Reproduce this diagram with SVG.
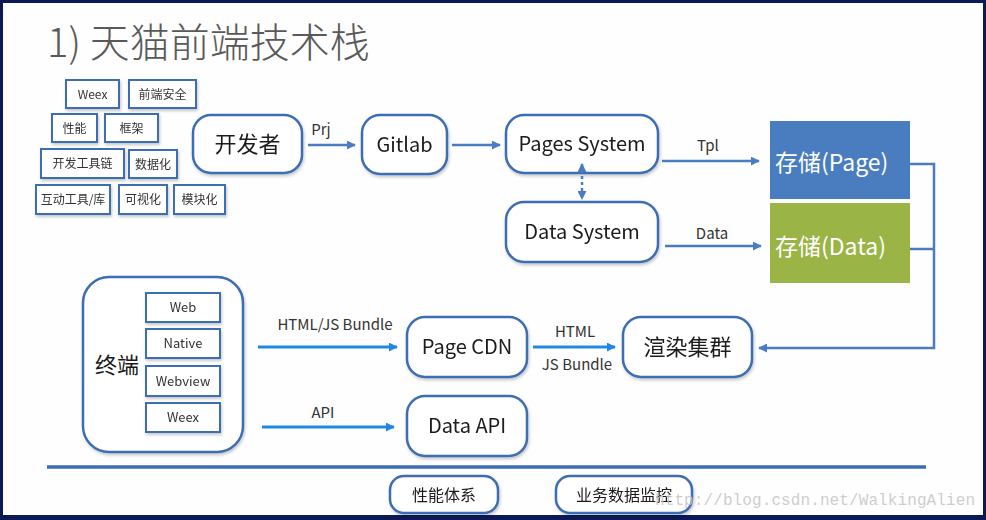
<svg xmlns="http://www.w3.org/2000/svg" width="986" height="520" viewBox="0 0 986 520">
<defs>
<style>
.t{font-family:"Noto Sans CJK SC","Noto Sans",sans-serif;fill:#1a1a1a}
.sb rect{fill:#fff;stroke:#3c6db2;stroke-width:2}
.sb text{font-size:12px;text-anchor:middle;fill:#333}
.rb rect{fill:#fff;stroke:#3c6db2;stroke-width:2.5}
.rb text{text-anchor:middle}
.ua{stroke:#4a7cbf;stroke-width:2.5;fill:none}
.la{stroke:#1f88e5;stroke-width:3;fill:none}
.lbl{font-size:15px;text-anchor:middle;fill:#333}
</style>
<filter id="sh" x="-10%" y="-10%" width="130%" height="140%">
<feDropShadow dx="1" dy="2" stdDeviation="1.5" flood-color="#000" flood-opacity="0.22"/>
</filter>
<marker id="ah" viewBox="0 0 10 10" refX="9" refY="5" markerWidth="9" markerHeight="9" markerUnits="userSpaceOnUse" orient="auto-start-reverse">
<path d="M0,0 L10,5 L0,10 z" fill="#4a7cbf"/>
</marker>
<marker id="ahl" viewBox="0 0 10 10" refX="9" refY="5" markerWidth="9" markerHeight="9" markerUnits="userSpaceOnUse" orient="auto">
<path d="M0,0 L10,5 L0,10 z" fill="#1f88e5"/>
</marker>
</defs>

<rect x="0" y="0" width="986" height="520" fill="#0b1a55"/>
<rect x="3" y="3" width="980" height="512" fill="#fefefe"/>

<text class="t" x="47" y="57" font-size="40" font-weight="300" style="fill:#595959">1) 天猫前端技术栈</text>

<g id="skills" class="t">
<g id="s-weex" class="sb" filter="url(#sh)"><rect x="66" y="80" width="53" height="28"/><text class="t" x="92.5" y="98.5">Weex</text></g>
<g id="s-sec" class="sb" filter="url(#sh)"><rect x="129" y="80" width="67" height="28"/><text class="t" x="162.5" y="98.5">前端安全</text></g>
<g id="s-perf" class="sb" filter="url(#sh)"><rect x="52" y="114" width="45" height="28"/><text class="t" x="74.5" y="132.5">性能</text></g>
<g id="s-fw" class="sb" filter="url(#sh)"><rect x="105" y="114" width="53" height="28"/><text class="t" x="131.5" y="132.5">框架</text></g>
<g id="s-tool" class="sb" filter="url(#sh)"><rect x="41" y="149" width="83" height="29"/><text class="t" x="82.5" y="168">开发工具链</text></g>
<g id="s-data" class="sb" filter="url(#sh)"><rect x="129" y="150" width="48" height="28"/><text class="t" x="153" y="168.5">数据化</text></g>
<g id="s-inter" class="sb" filter="url(#sh)"><rect x="36" y="185" width="74" height="29"/><text class="t" x="73" y="204">互动工具/库</text></g>
<g id="s-vis" class="sb" filter="url(#sh)"><rect x="119" y="185" width="48" height="29"/><text class="t" x="143" y="204">可视化</text></g>
<g id="s-mod" class="sb" filter="url(#sh)"><rect x="174" y="185" width="51" height="29"/><text class="t" x="199.5" y="204">模块化</text></g>
</g>

<g id="dev" class="rb" filter="url(#sh)"><rect x="193" y="115" width="109" height="58" rx="18"/><text class="t" x="247.5" y="152" font-size="22">开发者</text></g>
<g id="gitlab" class="rb" filter="url(#sh)"><rect x="362" y="115" width="85" height="59" rx="18"/><text class="t" x="404.5" y="152" font-size="20">Gitlab</text></g>
<g id="pages" class="rb" filter="url(#sh)"><rect x="506" y="115" width="152" height="58" rx="18"/><text class="t" x="582" y="151" font-size="20">Pages System</text></g>
<g id="datasys" class="rb" filter="url(#sh)"><rect x="506" y="202" width="152" height="60" rx="18"/><text class="t" x="582" y="239" font-size="20">Data System</text></g>

<g id="store-page"><rect x="770" y="121" width="140" height="78" fill="#4a7dc0"/><text class="t" x="775" y="171" font-size="23" style="fill:#fff">存储(Page)</text></g>
<g id="store-data"><rect x="770" y="203" width="140" height="80" fill="#9ab445"/><text class="t" x="775" y="255" font-size="23" style="fill:#fff">存储(Data)</text></g>

<g id="render" class="rb" filter="url(#sh)"><rect x="623" y="317" width="129" height="60" rx="18"/><text class="t" x="687.5" y="355" font-size="22">渲染集群</text></g>
<g id="pagecdn" class="rb" filter="url(#sh)"><rect x="407" y="317" width="120" height="60" rx="18"/><text class="t" x="467" y="354" font-size="20">Page CDN</text></g>
<g id="dataapi" class="rb" filter="url(#sh)"><rect x="407" y="396" width="120" height="60" rx="18"/><text class="t" x="467" y="433" font-size="20">Data API</text></g>

<g id="terminal">
<g class="rb" filter="url(#sh)"><rect x="83" y="277" width="160" height="175" rx="26"/></g>
<text class="t" x="117" y="373" font-size="22" text-anchor="middle">终端</text>
<g id="t-web" class="sb" filter="url(#sh)"><rect x="146" y="293" width="74" height="29"/><text class="t" x="183" y="312" style="font-size:13px">Web</text></g>
<g id="t-native" class="sb" filter="url(#sh)"><rect x="146" y="329" width="74" height="29"/><text class="t" x="183" y="348" style="font-size:13px">Native</text></g>
<g id="t-webview" class="sb" filter="url(#sh)"><rect x="146" y="366" width="74" height="30"/><text class="t" x="183" y="385.5" style="font-size:13px">Webview</text></g>
<g id="t-weex" class="sb" filter="url(#sh)"><rect x="146" y="403" width="74" height="29"/><text class="t" x="183" y="422" style="font-size:13px">Weex</text></g>
</g>

<g id="connectors">
<line class="ua" x1="308" y1="145" x2="355" y2="145" marker-end="url(#ah)"/>
<line class="ua" x1="452" y1="145" x2="500" y2="145" marker-end="url(#ah)"/>
<line class="ua" x1="582" y1="164" x2="582" y2="199" stroke-dasharray="3,3" marker-start="url(#ah)" marker-end="url(#ah)"/>
<line class="ua" x1="662" y1="161" x2="759" y2="161" marker-end="url(#ah)"/>
<line class="ua" x1="665" y1="246" x2="761" y2="246" marker-end="url(#ah)"/>
<polyline class="ua" points="910,164 934,164 934,348 759,348" marker-end="url(#ah)"/>
<line class="ua" x1="910" y1="249" x2="934" y2="249"/>
<line class="la" x1="258" y1="347" x2="397" y2="347" marker-end="url(#ahl)"/>
<line class="la" x1="533" y1="347" x2="615" y2="347" marker-end="url(#ahl)"/>
<line class="la" x1="262" y1="427" x2="394" y2="427" marker-end="url(#ahl)"/>
<text class="t lbl" x="321" y="135">Prj</text>
<text class="t lbl" x="708" y="151">Tpl</text>
<text class="t lbl" x="712" y="239">Data</text>
<text class="t lbl" x="335" y="330">HTML/JS Bundle</text>
<text class="t lbl" x="575" y="337">HTML</text>
<text class="t lbl" x="577" y="370">JS Bundle</text>
<text class="t lbl" x="323" y="418">API</text>
</g>

<line x1="47" y1="467" x2="926" y2="467" stroke="#3c6db2" stroke-width="3.5"/>

<g id="perfsys" class="rb" filter="url(#sh)"><rect x="390" y="476" width="108" height="37" rx="14"/><text class="t" x="444" y="500.5" font-size="16">性能体系</text></g>
<g id="monitor" class="rb" filter="url(#sh)"><rect x="556" y="476" width="136" height="37" rx="14"/><text class="t" x="624" y="500.5" font-size="16">业务数据监控</text></g>

<text x="655" y="505" font-family="'Liberation Mono',monospace" font-size="16" fill="#c4c4c4" textLength="320" fill-opacity="0.85">http://blog.csdn.net/WalkingAlien</text>
</svg>
